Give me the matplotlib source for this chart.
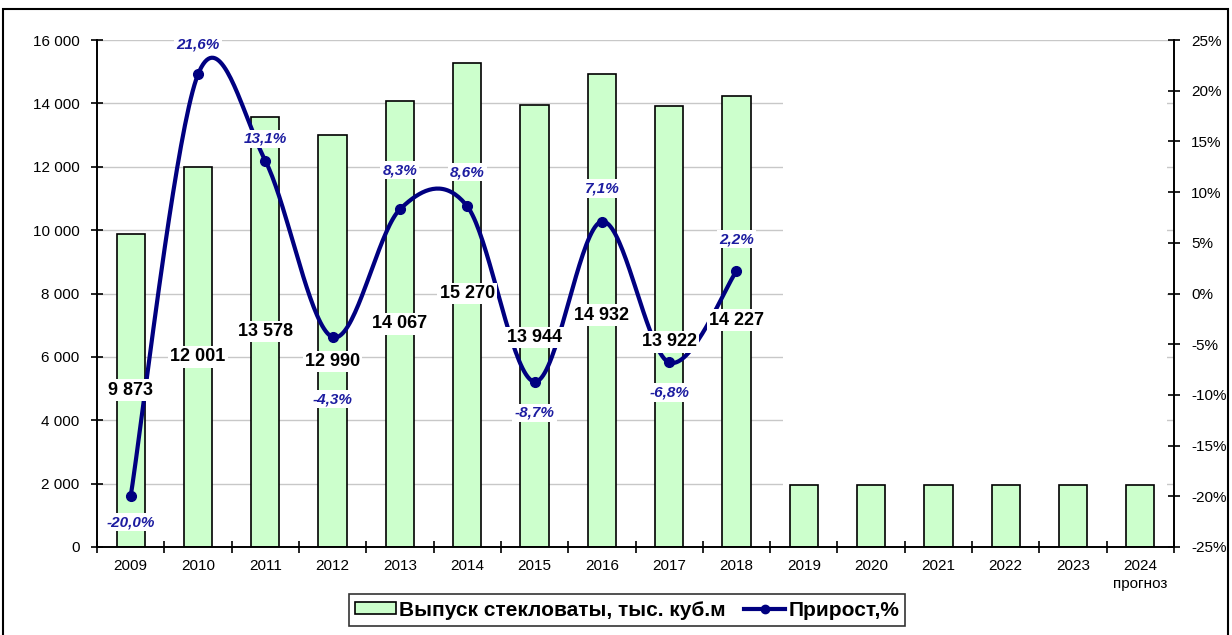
import numpy as np
import matplotlib
matplotlib.use("Agg")
import matplotlib.pyplot as plt
from matplotlib import font_manager
from matplotlib.patches import Rectangle
from matplotlib.lines import Line2D

plt.rcParams['font.family'] = ['Liberation Sans', 'DejaVu Sans']

years = ['2009', '2010', '2011', '2012', '2013', '2014', '2015', '2016',
         '2017', '2018', '2019', '2020', '2021', '2022', '2023', '2024\nпрогноз']
output = [9873, 12001, 13578, 12990, 14067, 15270, 13944, 14932, 13922, 14227,
          1950, 1950, 1950, 1950, 1950, 1950]
output_labels = ['9 873', '12 001', '13 578', '12 990', '14 067', '15 270',
                 '13 944', '14 932', '13 922', '14 227']
growth = [-20.0, 21.6, 13.1, -4.3, 8.3, 8.6, -8.7, 7.1, -6.8, 2.2]
growth_labels = ['-20,0%', '21,6%', '13,1%', '-4,3%', '8,3%', '8,6%',
                 '-8,7%', '7,1%', '-6,8%', '2,2%']

# где стоят подписи (подобрано по картинке)
bar_label_y = [4950, 6000, 6800, 5850, 7040, 8000, 6620, 7320, 6470, 7160]
pct_label_dy = [-26, 30, 22, -62, 39, 34, -31, 33, -30, 32]  # пиксели

navy = '#000080'
W, H = 1232, 635
fig = plt.figure(figsize=(W / 100, H / 100), dpi=100)
ax = fig.add_axes([97 / W, 1 - 547 / H, (1174 - 97) / W, (547 - 40) / H])
ax2 = ax.twinx()

x = np.arange(len(years))
ax.bar(x, output, width=0.42, color='#ccffcc', edgecolor='black', linewidth=1.2, zorder=2)
ax.set_xlim(-0.5, len(years) - 0.5)
ax.set_ylim(0, 16000)
ax.set_yticks(np.arange(0, 16001, 2000))
ax.set_yticklabels([f'{v:,}'.replace(',', ' ') for v in range(0, 16001, 2000)])
ax.grid(axis='y', color='#c8c8c8', linewidth=1)
ax.set_axisbelow(True)

# белая заплатка справа, как на исходной картинке
ax.add_patch(Rectangle(((783 - 97) / 1077, (547 - 487) / 507), (1167 - 783) / 1077,
                       (487 - 43) / 507, transform=ax.transAxes,
                       facecolor='white', edgecolor='none', zorder=1))

ax.set_xticks(x)
ax.set_xticklabels(years, fontsize=11, linespacing=1.3)
ax.set_xticks(np.arange(-0.5, len(years), 1), minor=True)
ax.tick_params(axis='x', which='major', length=0, pad=9)
ax.tick_params(axis='x', which='minor', direction='inout', length=8, width=1.2)
ax.tick_params(axis='y', direction='inout', length=9, width=1.2, labelsize=11, pad=8)

ax2.set_ylim(-25, 25)
ax2.set_yticks(np.arange(-25, 26, 5))
ax2.set_yticklabels([f'{v}%' for v in range(-25, 26, 5)])
ax2.tick_params(axis='y', direction='inout', length=9, width=1.2, labelsize=11, pad=8)

for a in (ax, ax2):
    a.spines['top'].set_visible(False)
    for s in ('left', 'right', 'bottom'):
        a.spines[s].set_linewidth(1.2)

# сглаженная линия (как в Excel), считаем в пикселях
sx = (1174 - 97) / len(years)
sy = (547 - 40) / 50.0
P = np.column_stack([x[:len(growth)] * sx, np.array(growth) * sy])
curve = []
for i in range(len(P) - 1):
    p0 = P[i - 1] if i > 0 else P[i]
    p1, p2 = P[i], P[i + 1]
    p3 = P[i + 2] if i + 2 < len(P) else P[i + 1]
    c1 = p1 + (p2 - p0) / 6
    c2 = p2 - (p3 - p1) / 6
    t = np.linspace(0, 1, 40)[:, None]
    seg = (1 - t) ** 3 * p1 + 3 * (1 - t) ** 2 * t * c1 + 3 * (1 - t) * t ** 2 * c2 + t ** 3 * p2
    curve.append(seg if i == 0 else seg[1:])
curve = np.vstack(curve)
ax2.plot(curve[:, 0] / sx, curve[:, 1] / sy, color=navy, linewidth=3, zorder=3)
ax2.plot(x[:len(growth)], growth, 'o', color=navy, markersize=7, zorder=3)

box = dict(facecolor='white', edgecolor='none', pad=1.5)
for i, lab in enumerate(output_labels):
    ax2.text(x[i], bar_label_y[i], lab, transform=ax.transData, ha='center', va='center',
             fontsize=13, fontweight='bold', color='black', bbox=box, zorder=5)
for i, lab in enumerate(growth_labels):
    ax2.annotate(lab, (x[i], growth[i]), xytext=(0, pct_label_dy[i] * 0.72),
                 textcoords='offset points', ha='center', va='center',
                 fontsize=11, fontweight='bold', style='italic', color='#1c1ca0',
                 bbox=box, zorder=5)

# легенда узким шрифтом, если он есть
narrow = 'Liberation Sans Narrow'
try:
    found = font_manager.findfont(font_manager.FontProperties(family=narrow, weight='bold'),
                                  fallback_to_default=False)
    has_narrow = 'Narrow' in found
except Exception:
    has_narrow = False
leg_prop = {'family': narrow, 'size': 18, 'weight': 'bold'} if has_narrow \
    else {'size': 15, 'weight': 'bold'}

handles = [Rectangle((0, 0), 1, 1, facecolor='#ccffcc', edgecolor='black', linewidth=1.2),
           Line2D([], [], color=navy, linewidth=3, marker='o', markersize=6)]
leg = fig.legend(handles, ['Выпуск стекловаты, тыс. куб.м', 'Прирост,%'],
                 loc='center', bbox_to_anchor=(627 / W, 1 - 610 / H), ncol=2,
                 frameon=True, fancybox=False, handlelength=41 / (leg_prop['size'] * 1.389),
                 handleheight=0.45, handletextpad=0.15, columnspacing=0.9,
                 prop=leg_prop, borderpad=0.3, borderaxespad=0)
leg.get_frame().set_edgecolor('black')
leg.get_frame().set_linewidth(1.2)

fig.patches.append(Rectangle((3 / W, -0.05), (1228 - 3) / W, 1.05 - 9 / H,
                             transform=fig.transFigure, fill=False,
                             edgecolor='black', linewidth=1.5))

fig.savefig('out.png', dpi=100)
